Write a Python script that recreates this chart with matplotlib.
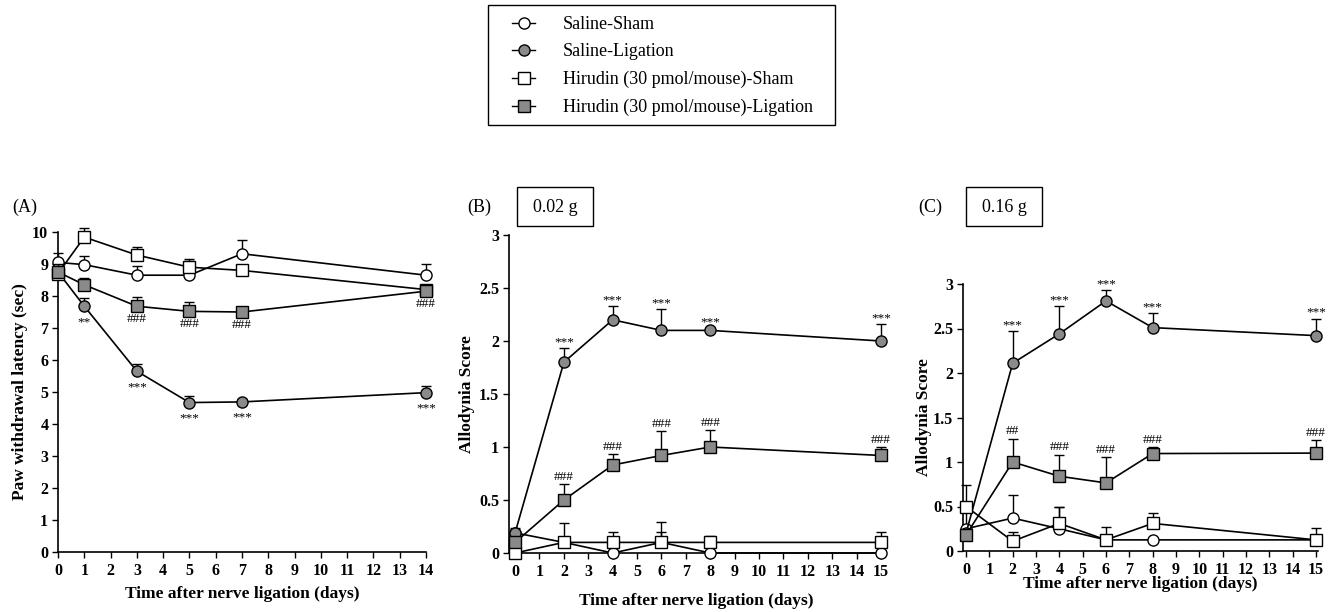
import matplotlib
matplotlib.use("Agg")
import matplotlib.pyplot as plt
from matplotlib.lines import Line2D
from matplotlib.patches import Rectangle
import numpy as np

plt.rcParams["font.family"] = ["Liberation Serif", "DejaVu Serif"]

# ---- panel A: paw withdrawal latency (sec)
days_a = [0, 1, 3, 5, 7, 14]
sal_sham_a = [9.05, 8.98, 8.65, 8.65, 9.32, 8.65]
sal_sham_a_err = [0.30, 0.28, 0.28, 0.45, 0.43, 0.35]
sal_lig_a = [8.75, 7.68, 5.65, 4.67, 4.69, 4.98]
sal_lig_a_err = [0.25, 0.25, 0.22, 0.22, 0.10, 0.20]
hir_sham_a = [8.70, 9.84, 9.28, 8.90, 8.80, 8.20]
hir_sham_a_err = [0.25, 0.30, 0.25, 0.25, 0.10, 0.10]
hir_lig_a = [8.75, 8.35, 7.68, 7.52, 7.50, 8.15]
hir_lig_a_err = [0.20, 0.20, 0.30, 0.30, 0.08, 0.15]
sal_lig_a_marks = ["", "**", "***", "***", "***", "***"]
hir_lig_a_marks = ["", "", "###", "###", "###", "###"]

# ---- panel B: allodynia score, 0.02 g
days_bc = [0, 2, 4, 6, 8, 15]
sal_sham_b = [0.19, 0.10, 0.00, 0.10, 0.00, 0.00]
sal_sham_b_err = [0.00, 0.00, 0.00, 0.19, 0.00, 0.00]
hir_sham_b = [0.00, 0.10, 0.10, 0.10, 0.10, 0.10]
hir_sham_b_err = [0.00, 0.18, 0.10, 0.10, 0.06, 0.10]
sal_lig_b = [0.19, 1.80, 2.20, 2.10, 2.10, 2.00]
sal_lig_b_err = [0.05, 0.13, 0.13, 0.20, 0.02, 0.16]
hir_lig_b = [0.10, 0.50, 0.83, 0.92, 1.00, 0.92]
hir_lig_b_err = [0.05, 0.15, 0.10, 0.23, 0.16, 0.08]
sal_lig_b_marks = ["", "***", "***", "***", "***", "***"]
hir_lig_b_marks = ["", "###", "###", "###", "###", "###"]

# ---- panel C: allodynia score, 0.16 g
sal_sham_c = [0.25, 0.37, 0.25, 0.125, 0.125, 0.125]
sal_sham_c_err = [0.49, 0.26, 0.25, 0.00, 0.00, 0.00]
hir_sham_c = [0.50, 0.11, 0.31, 0.125, 0.31, 0.125]
hir_sham_c_err = [0.00, 0.10, 0.19, 0.15, 0.12, 0.13]
sal_lig_c = [0.20, 2.11, 2.44, 2.81, 2.51, 2.42]
sal_lig_c_err = [0.05, 0.36, 0.31, 0.12, 0.16, 0.19]
hir_lig_c = [0.18, 1.00, 0.84, 0.765, 1.095, 1.10]
hir_lig_c_err = [0.05, 0.26, 0.24, 0.29, 0.07, 0.145]
sal_lig_c_marks = ["", "***", "***", "***", "***", "***"]
hir_lig_c_marks = ["", "##", "###", "###", "###", "###"]

labels = [
    "Saline-Sham",
    "Saline-Ligation",
    "Hirudin (30 pmol/mouse)-Sham",
    "Hirudin (30 pmol/mouse)-Ligation",
]
styles = [
    dict(marker="o", mfc="white"),
    dict(marker="o", mfc="#8a8a8a"),
    dict(marker="s", mfc="white"),
    dict(marker="s", mfc="#8a8a8a"),
]
score_ticks = ["0", "0.5", "1", "1.5", "2", "2.5", "3"]
xlab = "Time after nerve ligation (days)"

W, H = 1339, 612
fig = plt.figure(figsize=(W / 100, H / 100), dpi=100)


def px_axes(left, right, top, bottom):
    return fig.add_axes([left / W, 1 - bottom / H, (right - left) / W, (bottom - top) / H])


def px_box(left, right, top, bottom):
    fig.patches.append(Rectangle((left / W, 1 - bottom / H), (right - left) / W,
                                 (bottom - top) / H, transform=fig.transFigure,
                                 fc="none", ec="black", lw=1.0))


def draw_series(ax, x, y, err, style, z):
    eb = ax.errorbar(
        x, y, yerr=[np.zeros(len(err)), err], color="black", lw=1.2,
        ms=8, mec="black", mew=1.0, elinewidth=1.0, capsize=3.5,
        capthick=1.0, zorder=z, **style
    )
    for art in eb.lines[0:1] + tuple(eb.lines[1]) + tuple(eb.lines[2]):
        if art is not None:
            art.set_clip_on(False)
    return eb


def marks(ax, x, y, text, dy, va):
    for xi, yi, t in zip(x, y, text):
        if t:
            ax.annotate(t, (xi, yi), xytext=(0, dy), textcoords="offset points",
                        ha="center", va=va, fontsize=9.5)


def style_axes(ax):
    for s in ["top", "right"]:
        ax.spines[s].set_visible(False)
    ax.spines["left"].set_linewidth(1.2)
    ax.spines["bottom"].set_linewidth(1.2)
    ax.tick_params(direction="out", length=4, width=1.0, labelsize=11.5, pad=4)
    ax.tick_params(axis="y", pad=3)
    for lab in ax.get_xticklabels() + ax.get_yticklabels():
        lab.set_fontweight("bold")


def panel(ax, days, series, lig_y, lig_err, lig_marks, hir_y, hir_err, hir_marks):
    for i, (y, e) in enumerate(series):
        draw_series(ax, days, y, e, styles[i], 3 + i)
    marks(ax, days, np.add(lig_y, lig_err), lig_marks, 0, "bottom")
    marks(ax, days, np.add(hir_y, hir_err), hir_marks, 1, "bottom")


# ---- A
ax_a = px_axes(58, 426, 232, 552)
series_a = [
    (sal_sham_a, sal_sham_a_err),
    (sal_lig_a, sal_lig_a_err),
    (hir_sham_a, hir_sham_a_err),
    (hir_lig_a, hir_lig_a_err),
]
for i, (y, e) in enumerate(series_a):
    draw_series(ax_a, days_a, y, e, styles[i], 3 + i)
marks(ax_a, days_a, sal_lig_a, sal_lig_a_marks, -7, "top")
marks(ax_a, days_a, hir_lig_a, hir_lig_a_marks, -5, "top")
ax_a.set_xlim(0, 14)
ax_a.set_ylim(0, 10)
ax_a.set_xticks(range(0, 15))
ax_a.set_yticks(range(0, 11))
style_axes(ax_a)
ax_a.set_ylabel("Paw withdrawal latency (sec)", fontsize=12.5, fontweight="bold")
ax_a.set_xlabel(xlab, fontsize=12.5, fontweight="bold")
ax_a.yaxis.set_label_coords(-0.082, 0.5)
ax_a.xaxis.set_label_coords(0.5, -0.105)
fig.text(12 / W, 1 - 207 / H, "(A)", fontsize=13, va="center", ha="left")

# ---- B
ax_b = px_axes(509, 883, 235, 553)
series_b = [
    (sal_sham_b, sal_sham_b_err),
    (sal_lig_b, sal_lig_b_err),
    (hir_sham_b, hir_sham_b_err),
    (hir_lig_b, hir_lig_b_err),
]
panel(ax_b, days_bc, series_b, sal_lig_b, sal_lig_b_err, sal_lig_b_marks,
      hir_lig_b, hir_lig_b_err, hir_lig_b_marks)
ax_b.set_xlim(-0.25, 15.08)
ax_b.set_ylim(0, 3)
ax_b.set_xticks(range(0, 16))
ax_b.set_yticks(np.arange(0, 3.01, 0.5))
ax_b.set_yticklabels(score_ticks)
style_axes(ax_b)
ax_b.set_ylabel("Allodynia Score", fontsize=12.5, fontweight="bold")
ax_b.set_xlabel(xlab, fontsize=12.5, fontweight="bold")
ax_b.yaxis.set_label_coords(-0.09, 0.5)
ax_b.xaxis.set_label_coords(0.5, -0.125)
fig.text(467 / W, 1 - 207 / H, "(B)", fontsize=13, va="center", ha="left")
px_box(517, 593, 187, 226)
fig.text(555 / W, 1 - 207 / H, "0.02 g", fontsize=13, va="center", ha="center")

# ---- C
ax_c = px_axes(963, 1318, 284, 551)
series_c = [
    (sal_sham_c, sal_sham_c_err),
    (sal_lig_c, sal_lig_c_err),
    (hir_sham_c, hir_sham_c_err),
    (hir_lig_c, hir_lig_c_err),
]
panel(ax_c, days_bc, series_c, sal_lig_c, sal_lig_c_err, sal_lig_c_marks,
      hir_lig_c, hir_lig_c_err, hir_lig_c_marks)
ax_c.set_xlim(-0.13, 15.09)
ax_c.set_ylim(0, 3)
ax_c.set_xticks(range(0, 16))
ax_c.set_yticks(np.arange(0, 3.01, 0.5))
ax_c.set_yticklabels(score_ticks)
style_axes(ax_c)
ax_c.set_ylabel("Allodynia Score", fontsize=12.5, fontweight="bold")
ax_c.set_xlabel(xlab, fontsize=12.5, fontweight="bold")
ax_c.yaxis.set_label_coords(-0.088, 0.5)
ax_c.xaxis.set_label_coords(0.5, -0.092)
fig.text(918 / W, 1 - 207 / H, "(C)", fontsize=13, va="center", ha="left")
px_box(966, 1042, 187, 226)
fig.text(1004 / W, 1 - 207 / H, "0.16 g", fontsize=13, va="center", ha="center")

# ---- legend
handles = [
    Line2D([], [], color="black", lw=1.0, ms=8, mec="black", mew=1.0, **st)
    for st in styles
]
px_box(488, 835, 5, 125)
leg = fig.legend(
    handles, labels, loc="upper left", bbox_to_anchor=(512 / W, 1 - 16 / H),
    fontsize=13, frameon=False, handlelength=1.3, handletextpad=1.5,
    labelspacing=0.58, borderpad=0, borderaxespad=0,
)

fig.savefig("out.png", dpi=100)
